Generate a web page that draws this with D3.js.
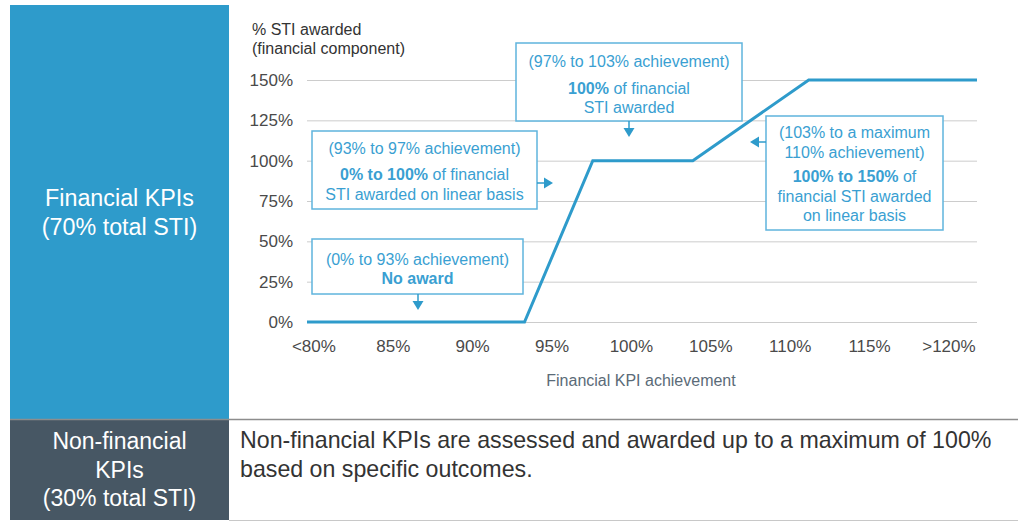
<!DOCTYPE html>
<html><head><meta charset="utf-8">
<script src="https://cdn.jsdelivr.net/npm/d3@7"></script>
<style>
html,body{margin:0;padding:0;background:#fff;}
svg{display:block;font-family:"Liberation Sans",Arial,Helvetica,sans-serif;}
text{white-space:pre;}
</style>
</head><body>
<svg id="c" width="1018" height="521"></svg>
<script>
// ---------------- data ----------------
const achievement = [79.6, 93.3, 97.6, 103.9, 111.2, 121.8];   // % financial KPI achievement
const stiAwarded  = [0, 0, 100, 100, 150, 150];                 // % STI awarded
const xTickValues = [80, 85, 90, 95, 100, 105, 110, 115, 120];
const xTickLabels = ["<80%", "85%", "90%", "95%", "100%", "105%", "110%", "115%", ">120%"];
const yTickValues = [0, 25, 50, 75, 100, 125, 150];
const yTickLabels = ["0%", "25%", "50%", "75%", "100%", "125%", "150%"];
const yTitleLines = ["% STI awarded", "(financial component)"];
const xTitle = "Financial KPI achievement";
const financialLabel = ["Financial KPIs", "(70% total STI)"];
const nonFinancialLabel = ["Non-financial", "KPIs", "(30% total STI)"];
const nonFinancialText = ["Non-financial KPIs are assessed and awarded up to a maximum of 100%", "based on specific outcomes."];
const annotationText = [
  [[["(97% to 103% achievement)", false]], [["100%", true], [" of financial", false]], [["STI awarded", false]]],
  [[["(93% to 97% achievement)", false]], [["0% to 100%", true], [" of financial", false]], [["STI awarded on linear basis", false]]],
  [[["(103% to a maximum", false]], [["110% achievement)", false]], [["100% to 150%", true], [" of", false]], [["financial STI awarded", false]], [["on linear basis", false]]],
  [[["(0% to 93% achievement)", false]], [["No award", true]]]
];

// ---------------- layout ----------------
const C = {
  blue: "#2e9bcb", dark: "#475764", boxStroke: "#5fb4dd", boxText: "#3a9fd2",
  grid: "#cccccc", tick: "#4a4a4a", xTitle: "#5b6b78", body: "#333333"
};
const plot = { left: 307, right: 977, top: 80, bottom: 322 };
const annLayout = [
  { box: [516, 43, 742, 121], base: [67, 94, 113], arrow: { dir: "down", x: 629, y: 121 } },
  { box: [312, 131, 537, 209], base: [154, 180, 199.5], arrow: { dir: "right", x: 537, y: 183 } },
  { box: [766, 116, 943, 230], base: [138, 158, 182, 202, 221], arrow: { dir: "left", x: 766, y: 142 } },
  { box: [312, 239, 523, 294], base: [265, 284], arrow: { dir: "down", x: 418, y: 294 } }
];

const svg = d3.select("#c");

// left panels
svg.append("rect").attr("x", 10).attr("y", 5).attr("width", 219).attr("height", 414).attr("fill", C.blue);
svg.append("rect").attr("x", 10).attr("y", 420).attr("width", 219).attr("height", 100).attr("fill", C.dark);
svg.append("line").attr("x1", 10).attr("x2", 1018).attr("y1", 419.5).attr("y2", 419.5)
  .attr("stroke", "#8d8d8d").attr("stroke-width", 1.5);
svg.append("line").attr("x1", 229).attr("x2", 1018).attr("y1", 520.5).attr("y2", 520.5)
  .attr("stroke", "#c8c8c8").attr("stroke-width", 1);

svg.append("g").selectAll("text").data(financialLabel).join("text")
  .attr("x", 119.5).attr("y", (d, i) => 206 + i * 29)
  .attr("text-anchor", "middle").attr("fill", "#fff").attr("font-size", 23.3).text(d => d);
svg.append("g").selectAll("text").data(nonFinancialLabel).join("text")
  .attr("x", 119.5).attr("y", (d, i) => 449 + i * 28.5)
  .attr("text-anchor", "middle").attr("fill", "#fff").attr("font-size", 23).text(d => d);
svg.append("g").selectAll("text").data(nonFinancialText).join("text")
  .attr("x", 240).attr("y", (d, i) => 448 + i * 29)
  .attr("fill", C.body).attr("font-size", 23.2).text(d => d);

// scales
const x = d3.scaleLinear().domain([achievement[0], achievement[achievement.length - 1]]).range([plot.left, plot.right]);
const y = d3.scaleLinear().domain([0, 150]).range([plot.bottom, plot.top]);

// y axis + gridlines
const yAxis = svg.append("g").attr("transform", `translate(${plot.left},0)`)
  .call(d3.axisLeft(y).tickValues(yTickValues)
    .tickFormat((d, i) => yTickLabels[i])
    .tickSize(-(plot.right - plot.left)).tickPadding(14));
yAxis.select(".domain").remove();
yAxis.selectAll(".tick line").attr("stroke", C.grid).attr("stroke-width", 1);
yAxis.selectAll(".tick text").attr("fill", C.tick).attr("font-size", 17)
  .attr("font-family", "Liberation Sans, Arial, sans-serif");

// x axis
const xAxis = svg.append("g").attr("transform", `translate(0,${plot.bottom})`)
  .call(d3.axisBottom(x).tickValues(xTickValues)
    .tickFormat((d, i) => xTickLabels[i]).tickSize(0).tickPadding(18));
xAxis.select(".domain").remove();
xAxis.selectAll(".tick text").attr("fill", C.tick).attr("font-size", 17)
  .attr("font-family", "Liberation Sans, Arial, sans-serif");

// titles
svg.append("g").selectAll("text").data(yTitleLines).join("text")
  .attr("x", 252).attr("y", (d, i) => 35 + i * 19)
  .attr("fill", C.body).attr("font-size", 16).text(d => d);
svg.append("text").attr("x", 641).attr("y", 386).attr("text-anchor", "middle")
  .attr("fill", C.xTitle).attr("font-size", 16).text(xTitle);

// line
const pts = achievement.map((a, i) => [a, stiAwarded[i]]);
svg.append("path").datum(pts)
  .attr("d", d3.line().x(d => x(d[0])).y(d => y(d[1])))
  .attr("fill", "none").attr("stroke", C.blue).attr("stroke-width", 3)
  .attr("stroke-linejoin", "miter");

// annotations
annLayout.forEach((L, k) => {
  const [x0, y0, x1, y1] = L.box;
  const g = svg.append("g");
  g.append("rect").attr("x", x0).attr("y", y0).attr("width", x1 - x0).attr("height", y1 - y0)
    .attr("fill", "#fff").attr("stroke", C.boxStroke).attr("stroke-width", 1.5);
  annotationText[k].forEach((line, li) => {
    const t = g.append("text").attr("x", (x0 + x1) / 2).attr("y", L.base[li])
      .attr("text-anchor", "middle").attr("fill", C.boxText).attr("font-size", 16);
    line.forEach(([s, b]) => t.append("tspan").attr("font-weight", b ? "bold" : "normal").text(s));
  });
  const a = L.arrow, stem = 7, len = 9, hw = 5.5;
  let d;
  if (a.dir === "down") {
    g.append("line").attr("x1", a.x).attr("x2", a.x).attr("y1", a.y).attr("y2", a.y + stem)
      .attr("stroke", C.blue).attr("stroke-width", 1.5);
    d = `M${a.x - hw},${a.y + stem}L${a.x + hw},${a.y + stem}L${a.x},${a.y + stem + len}Z`;
  } else if (a.dir === "right") {
    g.append("line").attr("x1", a.x).attr("x2", a.x + stem).attr("y1", a.y).attr("y2", a.y)
      .attr("stroke", C.blue).attr("stroke-width", 1.5);
    d = `M${a.x + stem},${a.y - hw}L${a.x + stem},${a.y + hw}L${a.x + stem + len},${a.y}Z`;
  } else {
    g.append("line").attr("x1", a.x).attr("x2", a.x - stem).attr("y1", a.y).attr("y2", a.y)
      .attr("stroke", C.blue).attr("stroke-width", 1.5);
    d = `M${a.x - stem},${a.y - hw}L${a.x - stem},${a.y + hw}L${a.x - stem - len},${a.y}Z`;
  }
  g.append("path").attr("d", d).attr("fill", C.blue);
});
</script>
</body></html>
